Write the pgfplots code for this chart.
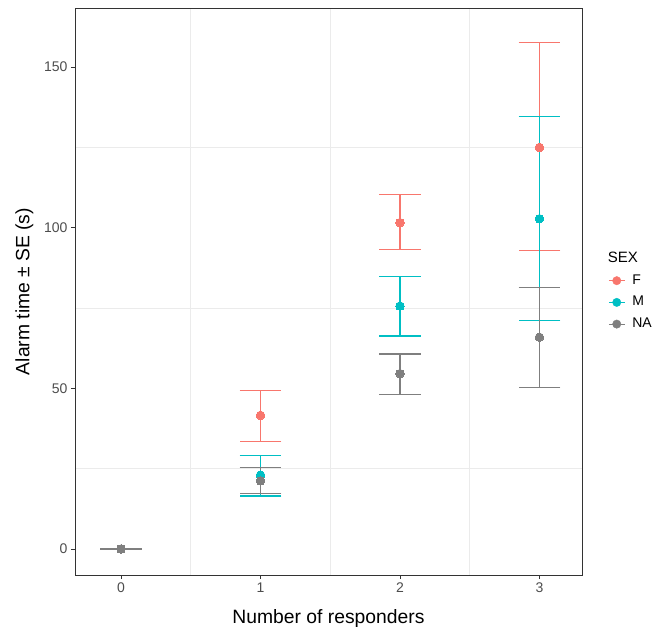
\documentclass[border=0pt]{standalone}
\usepackage{pgfplots}
\pgfplotsset{compat=1.18}
\usepackage{pgfplotstable}
\usepackage{fontspec}
\setmainfont{Liberation Sans}
\definecolor{cF}{HTML}{F8766D}
\definecolor{cM}{HTML}{00BFC4}
\definecolor{cNA}{HTML}{7F7F7F}
\definecolor{gridc}{HTML}{EBEBEB}
\definecolor{framec}{HTML}{333333}
\definecolor{ticklab}{HTML}{4D4D4D}

\pgfplotstableread{
x y ep em
1 41.6 7.7 8.1
2 101.6 8.7 8.4
3 125.0 32.6 32.0
}\tabF
\pgfplotstableread{
x y ep em
1 23.0 6.2 6.5
2 75.6 9.3 9.3
3 102.8 31.8 31.8
}\tabM
\pgfplotstableread{
x y ep em
0 0.0 0.0 0.0
1 21.2 4.2 3.9
2 54.6 6.1 6.5
3 65.9 15.5 15.7
}\tabNA

\begin{document}
\begin{tikzpicture}
\begin{axis}[
  scale only axis, width=507pt, height=567pt,
  xmin=-0.33, xmax=3.305, ymin=-8.1, ymax=168.4,
  xtick={0,1,2,3}, ytick={0,50,100,150},
  minor xtick={0.5,1.5,2.5}, minor ytick={25,75,125},
  xminorgrids, yminorgrids,
  minor grid style={gridc, line width=0.8pt},
  minor tick length=0pt,
  major tick length=4pt, tick align=outside,
  tick pos=left,
  major tick style={framec, line width=0.8pt},
  axis line style={framec, line width=0.8pt},
  ticklabel style={ticklab, font=\fontsize{14}{14}\selectfont},
  /pgf/number format/assume math mode=true,
  xlabel={Number of responders}, ylabel={Alarm time ± SE (s)},
  label style={font=\fontsize{19.3}{19.3}\selectfont},
  xlabel style={at={(rel axis cs:0.5,0)}, anchor=base, yshift=-48.3pt},
  ylabel style={at={([xshift=-45.7pt]rel axis cs:0,0.5)}, anchor=base, rotate=0},
  legend image code/.code={\draw[#1, line width=1.1pt] (0pt,0pt) -- (16pt,0pt); \fill[#1] (8pt,0pt) circle (4.2pt);},
  legend style={draw=none, fill=none, at={(rel axis cs:1,0.5)}, anchor=north west,
    xshift=26pt, yshift=17.5pt, inner sep=0pt, row sep=8.7pt, column sep=7pt,
    font=\fontsize{14}{14}\selectfont,
    nodes={inner ysep=0pt, inner xsep=0pt, text height=10pt, text depth=3pt}},
  legend cell align=left,
]
% error bars
\addplot[cF, only marks, mark=none, forget plot,
  error bars/.cd, y dir=both, y explicit, error mark=|,
  error bar style={cF, line width=1.1pt},
  error mark options={cF, line width=1.1pt, mark size=20.9pt}]
  table[x=x, y=y, y error plus=ep, y error minus=em]{\tabF};
\addplot[cM, only marks, mark=none, forget plot,
  error bars/.cd, y dir=both, y explicit, error mark=|,
  error bar style={cM, line width=1.1pt},
  error mark options={cM, line width=1.1pt, mark size=20.9pt}]
  table[x=x, y=y, y error plus=ep, y error minus=em]{\tabM};
\addplot[cNA, only marks, mark=none, forget plot,
  error bars/.cd, y dir=both, y explicit, error mark=|,
  error bar style={cNA, line width=1.1pt},
  error mark options={cNA, line width=1.1pt, mark size=20.9pt}]
  table[x=x, y=y, y error plus=ep, y error minus=em]{\tabNA};
% points
\addplot[cF, only marks, mark=*, mark size=4.3pt, mark options={draw=cF, fill=cF, line width=0pt}, forget plot] table[x=x, y=y]{\tabF};
\addplot[cM, only marks, mark=*, mark size=4.3pt, mark options={draw=cM, fill=cM, line width=0pt}, forget plot] table[x=x, y=y]{\tabM};
\addplot[cNA, only marks, mark=*, mark size=4.3pt, mark options={draw=cNA, fill=cNA, line width=0pt}, forget plot] table[x=x, y=y]{\tabNA};
% legend
\addlegendimage{cF}\addlegendentry{F}
\addlegendimage{cM}\addlegendentry{M}
\addlegendimage{cNA}\addlegendentry{NA}
\end{axis}
\node[anchor=base west, font=\fontsize{15}{15}\selectfont, inner sep=0pt] at ([xshift=25.7pt, yshift=29.2pt]current axis.east) {SEX};
\path (current axis.south west) ++(-75pt,-58pt) rectangle ([xshift=75pt, yshift=8pt]current axis.north east);
\end{tikzpicture}
\end{document}
